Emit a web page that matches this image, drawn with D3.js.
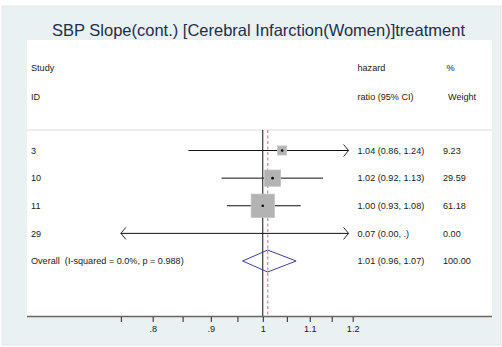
<!DOCTYPE html>
<html>
<head>
<meta charset="utf-8">
<script src="https://cdn.jsdelivr.net/npm/d3@7/dist/d3.min.js"></script>
<style>
  html, body { margin: 0; padding: 0; background: #ffffff; }
  svg { display: block; }
  text { font-family: "Liberation Sans", Arial, sans-serif; white-space: pre; }
</style>
</head>
<body>
<svg id="chart" width="502" height="347"></svg>
<script>
// Study-level estimates
const studies = ["3", "10", "11", "29"];
const hazard = [1.04, 1.02, 1.00, 0.07];
const lower = [0.86, 0.92, 0.93, 0.00];
const upper = [1.24, 1.13, 1.08, null];
const weights = [9.23, 29.59, 61.18, 0.00];

// Pooled estimate
const overallLabel = "Overall  (I-squared = 0.0%, p = 0.988)";
const overallHazard = [1.01];
const overallCI = [0.96, 1.07];
const overallWeight = [100.00];

// Axis
const tickValues = [0.8, 0.9, 1, 1.1, 1.2];
const tickLabels = [".8", ".9", "1", "1.1", "1.2"];
const minorTicks = [0.75, 0.85, 0.95, 1.05, 1.15];
const clipRange = [0.75, 1.19];

const titleText = "SBP Slope(cont.) [Cerebral Infarction(Women)]treatment";

const svg = d3.select("#chart");
const W = 502, H = 347;

// backgrounds
svg.append("rect").attr("x", 2).attr("y", 6).attr("width", W - 3).attr("height", H - 8)
  .attr("fill", "#e9f1f3").attr("stroke", "#dfe7ea").attr("stroke-width", 0.8);
const plot = { left: 27, right: 492, top: 40, bottom: 316.5 };
svg.append("rect").attr("x", plot.left).attr("y", plot.top)
  .attr("width", plot.right - plot.left).attr("height", plot.bottom - plot.top)
  .attr("fill", "#ffffff");

// title
svg.append("text").attr("x", 258.5).attr("y", 36).attr("text-anchor", "middle")
  .attr("font-size", 16.5).attr("fill", "#1f2d4f").text(titleText);

const x = d3.scaleLog().domain([0.8, 1.2]).range([152.7, 352.7]);
const rowY = d3.scalePoint().domain(d3.range(studies.length + 1)).range([150.5, 261]);
const boxSide = d3.scaleSqrt().domain([0, 100]).range([0, 29.8]);

const fs = 9.1;
const colLabel = 31, colHR = 357.5, colW = 443;

// headers
const hdr = svg.append("g").attr("font-size", fs).attr("fill", "#1a1a1a");
hdr.append("text").attr("x", colLabel).attr("y", 67.5).attr("dy", "0.35em").text("Study");
hdr.append("text").attr("x", colLabel).attr("y", 96.7).attr("dy", "0.35em").text("ID");
hdr.append("text").attr("x", colHR).attr("y", 67.5).attr("dy", "0.35em").text("hazard");
hdr.append("text").attr("x", colHR).attr("y", 96.7).attr("dy", "0.35em").text("ratio (95% CI)");
hdr.append("text").attr("x", 446.5).attr("y", 67.5).attr("dy", "0.35em").text("%");
hdr.append("text").attr("x", 448).attr("y", 96.7).attr("dy", "0.35em").text("Weight");

// separator
svg.append("line").attr("x1", plot.left).attr("x2", plot.right)
  .attr("y1", 130).attr("y2", 130).attr("stroke", "#dcdcdc").attr("stroke-width", 1);

// reference line at 1 and pooled estimate line
svg.append("line").attr("x1", x(1)).attr("x2", x(1)).attr("y1", 130).attr("y2", plot.bottom)
  .attr("stroke", "#111").attr("stroke-width", 1);
svg.append("line").attr("x1", x(overallHazard[0])).attr("x2", x(overallHazard[0]))
  .attr("y1", 130).attr("y2", plot.bottom)
  .attr("stroke", "#d49aa3").attr("stroke-width", 1.5).attr("stroke-dasharray", "3,2.5");

const fmt = d3.format(".2f");
const rows = studies.map((s, i) => ({ s, hr: hazard[i], lo: lower[i], hi: upper[i], w: weights[i], y: rowY(i) }));

const g = svg.append("g");
rows.forEach(r => {
  const loV = Math.max(r.lo, clipRange[0]);
  const hiV = r.hi == null ? clipRange[1] : Math.min(r.hi, clipRange[1]);
  const x1 = x(loV), x2 = x(hiV);
  g.append("line").attr("x1", x1).attr("x2", x2).attr("y1", r.y).attr("y2", r.y)
    .attr("stroke", "#111").attr("stroke-width", 1);
  if (r.lo < clipRange[0]) {
    g.append("path").attr("d", `M${x1 + 5},${r.y - 6}L${x1},${r.y}L${x1 + 5},${r.y + 6}`)
      .attr("fill", "none").attr("stroke", "#111").attr("stroke-width", 0.9);
  }
  if (r.hi == null || r.hi > clipRange[1]) {
    g.append("path").attr("d", `M${x2 - 5},${r.y - 6}L${x2},${r.y}L${x2 - 5},${r.y + 6}`)
      .attr("fill", "none").attr("stroke", "#111").attr("stroke-width", 0.9);
  }
  if (r.w > 0 && r.hr >= clipRange[0] && r.hr <= clipRange[1]) {
    const s = boxSide(r.w);
    g.append("rect").attr("x", x(r.hr) - s / 2).attr("y", r.y - s / 2)
      .attr("width", s).attr("height", s)
      .attr("fill", "#b3b3b3").attr("stroke", "#c4c4c4").attr("stroke-width", 0.8);
    g.append("circle").attr("cx", x(r.hr)).attr("cy", r.y).attr("r", 1.3).attr("fill", "#000");
  }
  const ciText = `${fmt(r.hr)} (${fmt(r.lo)}, ${r.hi == null ? "." : fmt(r.hi)})`;
  g.append("text").attr("x", colLabel).attr("y", r.y).attr("dy", "0.35em")
    .attr("font-size", fs).attr("fill", "#1a1a1a").text(r.s);
  g.append("text").attr("x", colHR).attr("y", r.y).attr("dy", "0.35em")
    .attr("font-size", fs).attr("fill", "#1a1a1a").text(ciText);
  g.append("text").attr("x", colW).attr("y", r.y).attr("dy", "0.35em")
    .attr("font-size", fs).attr("fill", "#1a1a1a").text(fmt(r.w));
});

// pooled diamond
const oy = rowY(studies.length);
const dh = 11;
g.append("path")
  .attr("d", `M${x(overallCI[0])},${oy}L${x(overallHazard[0])},${oy - dh}L${x(overallCI[1])},${oy}L${x(overallHazard[0])},${oy + dh}Z`)
  .attr("fill", "none").attr("stroke", "#3b3f9c").attr("stroke-width", 1);
g.append("text").attr("x", colLabel).attr("y", oy).attr("dy", "0.35em")
  .attr("font-size", fs).attr("fill", "#1a1a1a").text(overallLabel);
g.append("text").attr("x", colHR).attr("y", oy).attr("dy", "0.35em")
  .attr("font-size", fs).attr("fill", "#1a1a1a")
  .text(`${fmt(overallHazard[0])} (${fmt(overallCI[0])}, ${fmt(overallCI[1])})`);
g.append("text").attr("x", colW).attr("y", oy).attr("dy", "0.35em")
  .attr("font-size", fs).attr("fill", "#1a1a1a").text(fmt(overallWeight[0]));

// x axis
svg.append("line").attr("x1", plot.left).attr("x2", plot.right)
  .attr("y1", plot.bottom).attr("y2", plot.bottom)
  .attr("stroke", "#666").attr("stroke-width", 1.5);
const axis = d3.axisBottom(x).tickValues(tickValues.concat(minorTicks))
  .tickSize(5).tickSizeOuter(0)
  .tickFormat(d => { const i = tickValues.indexOf(d); return i >= 0 ? tickLabels[i] : ""; });
const ax = svg.append("g").attr("transform", `translate(0,${plot.bottom + 0.5})`).call(axis);
ax.select(".domain").remove();
ax.selectAll(".tick line").attr("stroke", "#222");
ax.selectAll(".tick text").attr("font-size", fs).attr("fill", "#1a1a1a")
  .attr("font-family", "Liberation Sans, Arial, sans-serif").attr("y", 8.5);
</script>
</body>
</html>
